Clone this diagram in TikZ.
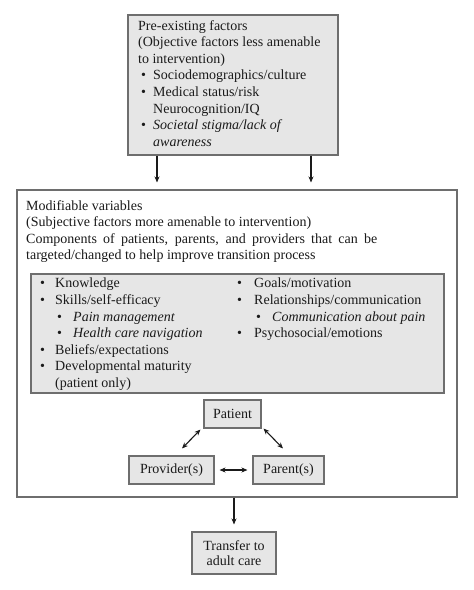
\documentclass[tikz,border=0pt]{standalone}
\usepackage{fontspec}
\setmainfont{Liberation Serif}
\usetikzlibrary{calc,arrows.meta}
\definecolor{boxfill}{HTML}{E6E6E6}
\definecolor{boxline}{HTML}{6E6E6E}
\definecolor{ink}{HTML}{1A1A1A}
\newcommand\lb[2]{\hspace*{#1pt}\makebox[#2pt][l]{•}}
\begin{document}
\begin{tikzpicture}[x=1pt,y=-1pt,
 box/.style={draw=boxline,fill=boxfill,line width=1.1pt,inner sep=0,text=ink,font=\fontsize{14}{15.5}\selectfont,align=center},
 txt/.style={font=\fontsize{14}{16.6}\selectfont,text=ink,align=left,inner sep=0,anchor=north west},
 arr/.style={-{Stealth[length=6pt,width=5pt]},line width=1.1pt,draw=ink},
 darr/.style={{Stealth[length=6pt,width=5pt]}-{Stealth[length=6pt,width=5pt]},line width=1.1pt,draw=ink}]
\path[use as bounding box,fill=white] (0,0) rectangle (474,590);

% boxes
\node[box,minimum width=210pt,minimum height=140pt] (pre) at (233,85) {};
\node[box,fill=white,minimum width=440pt,minimum height=307pt] (mod) at (237,343.5) {};
\node[box,minimum width=413pt,minimum height=119pt] (inner) at (237.5,333.5) {};
\node[box,minimum width=57pt,minimum height=28pt] (patient) at (232.5,414) {Patient};
\node[box,minimum width=85pt,minimum height=28pt] (provider) at (171.5,470) {Provider(s)};
\node[box,minimum width=71pt,minimum height=28pt] (parent) at (288.5,470) {Parent(s)};
\node[box,minimum width=84pt,minimum height=42pt] (transfer) at (234,553) {Transfer to\\adult care};

% texts
\node[txt] (pretext) at (138,20) {Pre-existing factors\\
(Objective factors less amenable\\
to intervention)\\
\lb{3}{12}Sociodemographics/culture\\
\lb{3}{12}Medical status/risk\\
\hspace*{15pt}Neurocognition/IQ\\
\lb{3}{12}\textit{Societal stigma/lack of}\\
\hspace*{15pt}\textit{awareness}};

\node[txt] (modtext) at (26,200) {Modifiable variables\\
(Subjective factors more amenable to intervention)\\
\makebox[351pt][s]{Components of patients, parents, and providers that can be}\\
targeted/changed to help improve transition process};

\node[txt] (left) at (37,278) {\lb{3}{15}Knowledge\\
\lb{3}{15}Skills/self-efficacy\\
\lb{20}{16}\textit{Pain management}\\
\lb{20}{16}\textit{Health care navigation}\\
\lb{3}{15}Beliefs/expectations\\
\lb{3}{15}Developmental maturity\\
\hspace*{18pt}(patient only)};

\node[txt] (right) at (235,278) {\lb{2}{17}Goals/motivation\\
\lb{2}{17}Relationships/communication\\
\lb{21}{16}\textit{Communication about pain}\\
\lb{2}{17}Psychosocial/emotions};

% connectors
\coordinate (a1) at (157,0);
\coordinate (a2) at (311,0);
\draw[arr,shorten >=7pt] (pre.south -| a1) -- (mod.north -| a1);
\draw[arr,shorten >=7pt] (pre.south -| a2) -- (mod.north -| a2);
\draw[darr] ($(patient.south west)+(-3,1)$) -- ($(provider.north)+(10.5,-7)$);
\draw[darr] ($(patient.south east)+(2,0)$) -- ($(parent.north)+(-5.5,-7)$);
\draw[darr,shorten <=5pt,shorten >=5pt] (provider) -- (parent);
\draw[arr,shorten >=7pt] (mod.south -| transfer.north) -- (transfer.north);
\end{tikzpicture}
\end{document}
